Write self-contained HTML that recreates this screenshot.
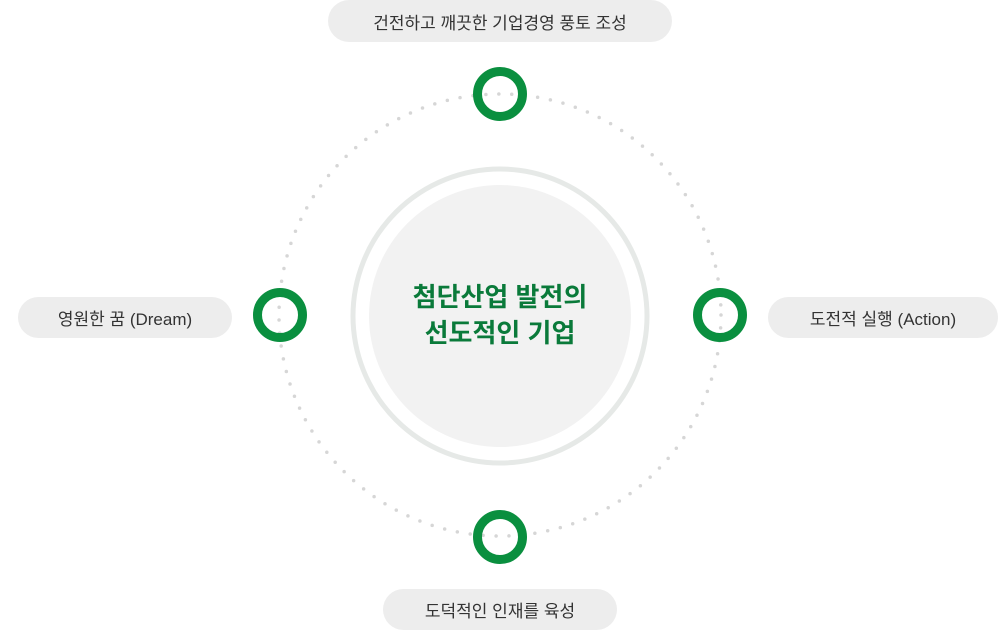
<!DOCTYPE html>
<html><head><meta charset="utf-8"><style>
body{margin:0;width:1000px;height:631px;background:#fff;overflow:hidden;font-family:"Liberation Sans","Noto Sans CJK KR",sans-serif}
.pill{position:absolute;background:#ededed;border-radius:21px;color:#333;font-size:17px;display:flex;align-items:center;justify-content:center}
</style></head><body>
<svg width="1000" height="631" style="position:absolute;left:0;top:0">
<circle cx="500" cy="315" r="221" fill="none" stroke="#d6d6d6" stroke-width="3.5" stroke-linecap="round" stroke-dasharray="0 13"/>
<circle cx="500" cy="316" r="147" fill="#fff" stroke="#e6e9e7" stroke-width="5"/>
<circle cx="500" cy="316" r="131" fill="#f2f2f2"/>
<g fill="none" stroke="#0a8f3f" stroke-width="9">
<circle cx="500" cy="94" r="22.5"/>
<circle cx="280" cy="315" r="22.5"/>
<circle cx="720" cy="315" r="22.5"/>
<circle cx="500" cy="537" r="22.5"/>
</g>
<text x="500" y="306" text-anchor="middle" fill="#0a7a3a" font-size="26" font-weight="bold" font-family="Liberation Sans, Noto Sans CJK KR, sans-serif">첨단산업 발전의</text>
<text x="500" y="342" text-anchor="middle" fill="#0a7a3a" font-size="26" font-weight="bold" font-family="Liberation Sans, Noto Sans CJK KR, sans-serif">선도적인 기업</text>
</svg>
<div class="pill" style="left:328px;top:0;width:344px;height:42px">건전하고 깨끗한 기업경영 풍토 조성</div>
<div class="pill" style="left:18px;top:297px;width:214px;height:41px">영원한 꿈 (Dream)</div>
<div class="pill" style="left:768px;top:297px;width:230px;height:41px">도전적 실행 (Action)</div>
<div class="pill" style="left:383px;top:589px;width:234px;height:41px">도덕적인 인재를 육성</div>
</body></html>
